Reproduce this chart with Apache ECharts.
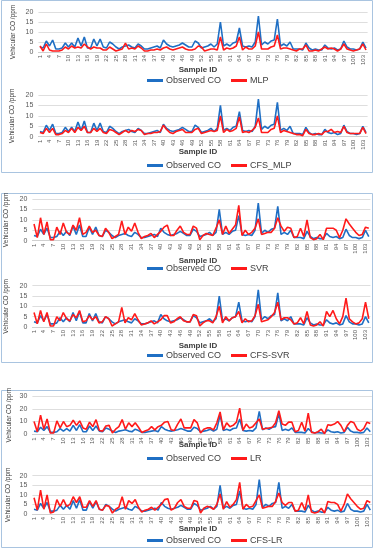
<!DOCTYPE html>
<html>
<head>
<meta charset="utf-8">
<script src="https://cdn.jsdelivr.net/npm/echarts@6/dist/echarts.min.js"></script>
<style>html,body{margin:0;padding:0;background:#fff}#c{width:377px;height:550px}</style>
</head>
<body>
<div id="c"></div>
<script>
const sampleIds = [1,2,3,4,5,6,7,8,9,10,11,12,13,14,15,16,17,18,19,20,21,22,23,24,25,26,27,28,29,30,31,32,33,34,35,36,37,38,39,40,41,42,43,44,45,46,47,48,49,50,51,52,53,54,55,56,57,58,59,60,61,62,63,64,65,66,67,68,69,70,71,72,73,74,75,76,77,78,79,80,81,82,83,84,85,86,87,88,89,90,91,92,93,94,95,96,97,98,99,100,101,102,103,104];

const observedCO = [2.5,2,5.5,3,6,1.5,1.5,2,4.5,2.5,4.5,2.5,7,3,7.5,2,2,6.5,3,6.5,2.5,2,5,4,2.5,1.5,2.5,3,3.5,2.5,2,4,3,1.5,1.5,2,2.5,3,2,6,4,3,2.5,3,3.5,4.5,3.5,2.5,2.5,5.5,4.5,2,2.5,3,4,2.5,4,15,3,4,3,4.5,5,12,3,2.5,3,2.5,5,18,3.5,5,4,5.5,6,16.5,3,4,3,5,1.5,1.5,1.5,1,4.5,2,1,1.5,1,1,3.5,2,1.5,2,1,1.5,5.5,2.5,1.5,1.5,1,1.5,5,2];

const mlp = [3,0.5,4,1,0.5,0.5,0.5,1,2.5,1.5,3,2,2.5,2,4,2.5,1.5,2.5,2,2,1,1,2.5,1.5,0.5,1,1.5,4.5,1.5,2,1.5,3,2,0.5,0.5,1,1,1.5,1,2,2.5,1.5,1,1.5,2,2.5,1.5,1,1,1.5,3,2.5,0.5,1,1.5,1.5,1,7.5,1,2,1.5,2,3,7.5,1,2.5,1.5,1.5,3,10,1.5,1.5,1.5,2.5,3,8.5,1.5,2,2,1.5,1,0.5,1.5,1.5,3.5,0.5,0.5,1,0.5,1.5,2.5,1.5,2,1.5,0.5,1.5,4,1.5,1,0.5,1,1.5,4,1];

const cfsMlp = [2,1.5,4,2,4,1,1,1.5,3,2,4,2,4.5,3,5,2,2,4,2.5,4,2,1.5,3.5,3,2,1,2,3,2,3,2.5,3.5,3,1,1.5,1.5,2,2,2.5,5.5,3.5,2,1.5,2.5,3,3.5,2,2,2,3.5,4,1.5,2,2.5,3,2.5,3,10,2,3.5,2.5,3,4,9.5,2,2.5,2,3,4.5,9,2,2,2,3.5,4,10,2,3,2.5,2,1.5,1,1,0.5,3.5,1.5,1,1,1.5,1,2.5,2.5,3.5,2,2.5,2,5,2,1.5,1.5,1.5,1.5,4.5,1.5];

const svr = [8,1.5,11,3,9,0.5,0.5,6.5,3,8.5,4,3,7.5,5,11,3,4,7,4,5,2.5,2,6,4,1,2,3,9.5,3,6.5,4.5,8.5,4,1,2,2.5,3.5,1.5,3,4.5,6.5,7.5,2.5,2.5,5,7,4,3,3,7,6,0.5,2.5,3.5,3,2.5,6,10,3,7,3.5,5.5,7.5,17,2.5,5,3,4,6,10.5,3,3.5,4,4,6,11,7,4.5,6.5,6,1.5,2,6,2,10,1.5,0.5,1,3,0.5,6,6,6,5,1.5,5,10.5,8,6,4,2.5,3,6.5,6];

const cfsSvr = [7,1.5,8,2.5,7,0.5,0.5,5,3,7,4,3,6,4.5,8,2.5,3,5.5,3.5,5,2,2.5,5,4,0.5,1.5,2.5,9.5,2,4.5,3.5,6.5,3.5,1,1.5,2,3,1.5,2.5,3.5,5.5,5.5,2,2.5,4,5,3,2.5,2.5,6,5.5,0.5,2,3,3,2,5,10,2,5,3,4.5,5,7.5,2,4,2.5,3,5.5,11,2.5,3,3.5,5,7,12,3.5,4.5,4.5,3.5,1.5,2,4.5,1.5,7.5,1,0.5,1,2.5,0.5,7.5,5,8,4,1.5,5,14,4,2.5,1.5,2,4,12,4];

const lr = [10,2,15,4,12,1,1,10.5,5,10,6,7,11,7,10.5,5,4,9.5,6,11.5,3,2.5,6.5,7,1,4,6,11.5,4,9,6,9,5.5,1.5,2.5,3.5,6,3.5,6,7,9.5,10,3.5,3,8,12,5,5,5,11.5,9,1,4,5,5,3.5,9,17.5,3.5,9,6,7,9.5,20.5,3,8,5,6,9,12,4,4.5,5,5.5,9,18.5,8,7,9.5,9.5,2,3,9.5,2.5,16.5,1.5,1,2,4,0.5,7.5,7,8,10,7,2,7,10,9,4,2.5,4.5,9.5,8.5];

const cfsLr = [8.5,2,12.5,2.5,10,0.5,1,7.5,4,7.5,4,5,9,6,9,3.5,3.5,7,4,7,2.5,2,4.5,4,0.5,2.5,3.5,9,2.5,7,5.5,7.5,3.5,1,2,2.5,3.5,2,3.5,5,7.5,8,2,3,6,7.5,4,3,3,7,6.5,0.5,3,4,3.5,2.5,5,10.5,2.5,6.5,3.5,5,7.5,16.5,2.5,5,3.5,4,7,10,3,3.5,4,4,6.5,11,6,4.5,6,6,1.5,2,6,2,10,1,0.5,1,3,0.5,6.5,6,6,5,1.5,5,10.5,8,6,4,2.5,3,7,6];

const modelNames = ['MLP','CFS_MLP','SVR','CFS-SVR','LR','CFS-LR'];
const modelData = [mlp, cfsMlp, svr, cfsSvr, lr, cfsLr];
const yMaxes = [20,20,20,20,30,20];
const yIntervals = [5,5,5,5,10,5];

// layout (positions only)
const grids = [
  {left:38.4, top:12,    width:329.2, height:40},
  {left:38.4, top:95,    width:329.2, height:41.7},
  {left:32.4, top:199,   width:338,   height:41.7},
  {left:32.4, top:285.7, width:338,   height:41.3},
  {left:32.4, top:396,   width:339.5, height:38.3},
  {left:32.4, top:475.7, width:339.5, height:38.3}
];
const sampleIdY = [70,152,261,346,445,529];
const legendY = [76,161,264,351,454,536];
const yTitleX = [13,12,6,6,9,8];
const BLUE = '#1f6fc4', RED = '#ff1a1a';

const chart = echarts.init(document.getElementById('c'), null, {renderer:'canvas'});
const option = {
  animation:false,
  backgroundColor:'#fff',
  grid: grids.map(g => Object.assign({containLabel:false}, g)),
  xAxis: grids.map((g,i) => ({
    type:'category', gridIndex:i, data:sampleIds, boundaryGap:true,
    axisLine:{lineStyle:{color:'#d0d0d0',width:1}},
    axisTick:{show:false},
    axisLabel:{interval:2, rotate:90, fontSize:6, color:'#595959', margin:3, fontFamily:'Liberation Sans'}
  })),
  yAxis: grids.map((g,i) => ({
    type:'value', gridIndex:i, min:0, max:yMaxes[i], interval:yIntervals[i],
    axisLine:{show:false}, axisTick:{show:false},
    splitLine:{lineStyle:{color:'#dedede',width:1}},
    axisLabel:{fontSize:7, color:'#595959', margin:5, fontFamily:'Liberation Sans'}
  })),
  legend: grids.map((g,i) => ({
    left:147, top:legendY[i], padding:0, itemWidth:16, itemHeight:3, itemGap:10,
    icon:'rect', data:['Observed CO', modelNames[i]],
    textStyle:{fontSize:9, color:'#404040', fontFamily:'Liberation Sans', padding:[0,0,0,-2]}
  })),
  series: [],
  graphic: []
};
for (let i=0;i<6;i++){
  option.series.push({name:'Observed CO', type:'line', xAxisIndex:i, yAxisIndex:i, data:observedCO,
    symbol:'none', lineStyle:{color:BLUE, width:1.6}, itemStyle:{color:BLUE}, z:2});
  option.series.push({name:modelNames[i], type:'line', xAxisIndex:i, yAxisIndex:i, data:modelData[i],
    symbol:'none', lineStyle:{color:RED, width:1.6}, itemStyle:{color:RED}, z:3});
  option.graphic.push({type:'text', x:198, y:sampleIdY[i], z:10,
    style:{text:'Sample ID', font:'bold 8px Liberation Sans', fill:'#404040', align:'center', verticalAlign:'middle', backgroundColor:'rgba(255,255,255,0)'}});
  option.graphic.push({type:'text', x:yTitleX[i], y:grids[i].top+grids[i].height/2, rotation:Math.PI/2,
    style:{text:'Vehicular CO /ppm', font:'6.5px Liberation Sans', fill:'#404040', align:'center', verticalAlign:'middle'}});
}
// frames
option.graphic.push({type:'rect', shape:{x:1.5,y:0.5,width:371,height:172}, style:{fill:'none',stroke:'#a9c4e0',lineWidth:1}, z:-1});
option.graphic.push({type:'rect', shape:{x:1.5,y:193.5,width:371,height:169}, style:{fill:'none',stroke:'#a9c4e0',lineWidth:1}, z:-1});
option.graphic.push({type:'rect', shape:{x:1.5,y:390.5,width:371,height:157}, style:{fill:'none',stroke:'#a9c4e0',lineWidth:1}, z:-1});
chart.setOption(option);
</script>
</body>
</html>
